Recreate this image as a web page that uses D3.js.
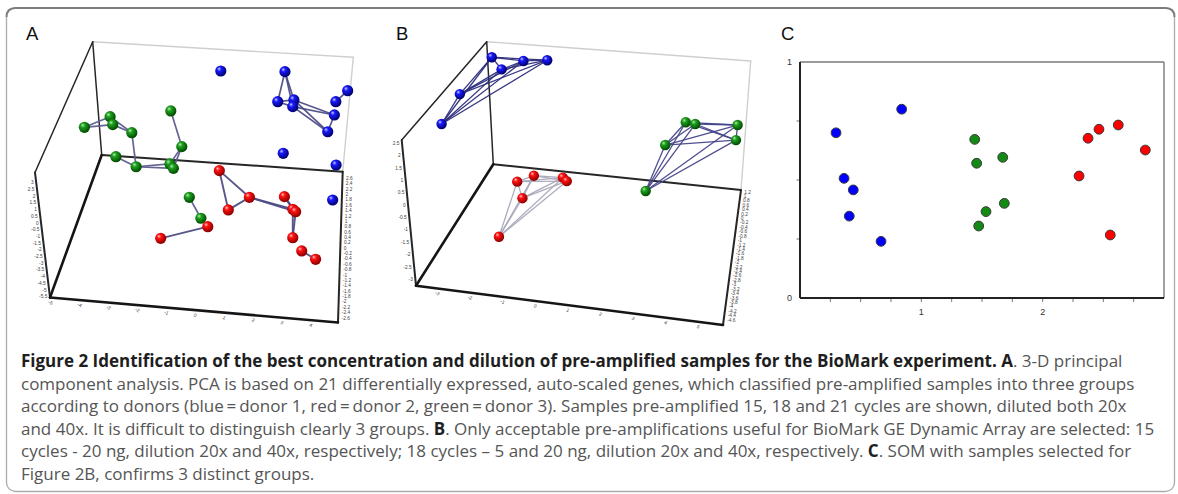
<!DOCTYPE html>
<html><head><meta charset="utf-8">
<script src="https://cdn.jsdelivr.net/npm/d3@7/dist/d3.min.js"></script>
<style>
html,body{margin:0;padding:0;background:#fff;}
svg{display:block;}
</style></head><body>
<svg id="fig" width="1178" height="494"></svg>
<script>
// ---------- data ----------
// Panel A: 3-D PCA, apparent positions [PC1 along the front axis, height on the left axis]
const A_blue  = [[0.91,11.33],[3.13,11.28],[2.88,9.04],[3.44,9.17],[3.40,8.67],[4.84,8.05],[4.61,6.80],[4.89,9.04],[5.30,9.86],[3.07,5.19],[4.90,4.32],[4.78,1.71]];
const A_green = [[-3.81,7.13],[-2.92,7.92],[-2.83,7.33],[-2.17,6.73],[-2.72,4.94],[-2.02,4.19],[-0.82,8.35],[-0.44,5.69],[-0.85,4.40],[-0.73,4.07],[-0.18,1.91],[0.22,0.35]];
const A_red   = [[0.86,3.90],[1.90,1.91],[1.17,0.97],[3.11,1.96],[3.40,1.02],[3.50,0.84],[3.40,-1.10],[3.71,-2.09],[4.19,-2.71],[0.46,-0.28],[-1.17,-1.15]];
// links between replicate samples (index pairs)
const A_blueLinks  = [[1,2],[1,3],[1,4],[2,3],[2,4],[3,5],[3,6],[4,6],[4,5],[5,6],[7,8]];
const A_greenLinks = [[0,1],[0,2],[1,2],[1,3],[2,3],[3,5],[4,5],[5,8],[5,9],[6,7],[7,8],[7,9],[10,11]];
const A_redLinks   = [[0,1],[0,2],[1,2],[1,4],[1,5],[3,4],[3,5],[4,6],[5,6],[7,8],[9,10]];

// Panel B: selected pre-amplifications
const B_blue  = [[-1.31,5.98],[-0.34,5.83],[0.39,5.86],[-1.01,5.49],[-2.29,4.49],[-2.85,3.28]];
const B_green = [[4.64,3.35],[4.93,3.28],[6.23,3.24],[6.18,2.63],[4.01,2.43],[3.41,0.57]];
const B_red   = [[-0.53,0.95],[-0.02,1.19],[0.87,1.11],[0.99,0.97],[-0.37,0.28],[-1.09,-1.28]];

// Panel C: SOM map coordinates
const C_blue  = [[0.297,0.700],[0.838,0.800],[0.363,0.507],[0.439,0.458],[0.406,0.347],[0.668,0.240]];
const C_green = [[1.440,0.672],[1.456,0.571],[1.671,0.596],[1.684,0.401],[1.533,0.366],[1.473,0.305]];
const C_red   = [[2.374,0.677],[2.464,0.715],[2.623,0.733],[2.846,0.627],[2.300,0.517],[2.557,0.267]];

// tick labels
const A_leftTicks  = [3,2.5,2,1.5,1,0.5,0,-0.5,-1,-1.5,-2,-2.5,-3,-3.5,-4,-4.5,-5,-5.5];
const A_frontTicks = [-5,-4,-3,-2,-1,0,1,2,3,4];
const A_rightTicks = [2.6,2.4,2.2,2,1.8,1.6,1.4,1.2,1,0.8,0.6,0.4,0.2,0,-0.2,-0.4,-0.6,-0.8,-1,-1.2,-1.4,-1.6,-1.8,-2,-2.2,-2.4,-2.6];
const B_leftTicks  = [2.5,2,1.5,1,0.5,0,-0.5,-1,-1.5,-2,-2.5,-3];
const B_frontTicks = [-3,-2,-1,0,1,2,3,4,5];
const B_rightTicks = [1.2,1,0.8,0.6,0.4,0.2,0,-0.2,-0.4,-0.6,-0.8,-1,-1.2,-1.4,-1.6,-1.8,-2,-2.2,-2.4,-2.6,-2.8,-3,-3.2,-3.4,-3.6,-3.8,-4,-4.2,-4.4,-4.6];
const C_xLabels = [1,2];
const C_yLabels = [0,1];
const C_xMinor = [0.25,0.5,0.75,1,1.25,1.5,1.75,2,2.25,2.5,2.75];
const C_yMinor = [0.25,0.5,0.75];

const captionLines = [
  [["Figure 2 Identification of the best concentration and dilution of pre-amplified samples for the BioMark experiment. A", true], [". 3-D principal", false]],
  [["component analysis. PCA is based on 21 differentially expressed, auto-scaled genes, which classified pre-amplified samples into three groups", false]],
  [["according to donors (blue\u2009=\u2009donor 1, red\u2009=\u2009donor 2, green\u2009=\u2009donor 3). Samples pre-amplified 15, 18 and 21 cycles are shown, diluted both 20x", false]],
  [["and 40x. It is difficult to distinguish clearly 3 groups. ", false], ["B", true], [". Only acceptable pre-amplifications useful for BioMark GE Dynamic Array are selected: 15", false]],
  [["cycles - 20 ng, dilution 20x and 40x, respectively; 18 cycles \u2013 5 and 20 ng, dilution 20x and 40x, respectively. ", false], ["C", true], [". SOM with samples selected for", false]],
  [["Figure 2B, confirms 3 distinct groups.", false]]
];

// ---------- drawing ----------
const svg = d3.select("#fig");
const defs = svg.append("defs");
const flat = {blue: "#0000ff", red: "#ff0000", green: "#138a13"};
[["blue", "#c4c8ff", "#1818ff", "#00006a"],
 ["red", "#ffc0c0", "#ff1010", "#8a0000"],
 ["green", "#b0ecb0", "#1ea01e", "#004a00"]].forEach(([k, hi, mid, lo]) => {
  const g = defs.append("radialGradient").attr("id", "ball-" + k)
    .attr("cx", "40%").attr("cy", "38%").attr("r", "62%").attr("fx", "34%").attr("fy", "30%");
  g.append("stop").attr("offset", "0%").attr("stop-color", hi);
  g.append("stop").attr("offset", "32%").attr("stop-color", mid);
  g.append("stop").attr("offset", "100%").attr("stop-color", lo);
});

// outer frame
svg.append("rect").attr("x", 6.5).attr("y", 8).attr("width", 1168).attr("height", 483.5)
  .attr("rx", 9).attr("fill", "none").attr("stroke", "#ababab").attr("stroke-width", 1.3);
svg.append("path").attr("d", "M6.5,17 Q6.5,8 15.5,8 L1165.5,8 Q1174.5,8 1174.5,17")
  .attr("fill", "none").attr("stroke", "#7d7d7d").attr("stroke-width", 2);

// panel letters
[["A", 26], ["B", 396], ["C", 781]].forEach(([t, x]) => {
  svg.append("text").attr("x", x).attr("y", 40).text(t)
    .attr("font-family", "Liberation Sans, Arial, sans-serif").attr("font-size", 18.5).attr("fill", "#111");
});

const lerp = (a, b, t) => [a[0] + (b[0] - a[0]) * t, a[1] + (b[1] - a[1]) * t];

function panel3D(o) {
  const g = svg.append("g");
  const [P1, P2, P3, P4, P5, P6, P7] = o.box;
  const seg = (a, b, stroke, w) => g.append("line")
    .attr("x1", a[0]).attr("y1", a[1]).attr("x2", b[0]).attr("y2", b[1])
    .attr("stroke", stroke).attr("stroke-width", w).attr("stroke-linecap", "round");
  // box edges: faint back wall, dark axes
  seg(P1, P2, "#cfcfcf", 1.4);
  seg(P2, P4, "#cfcfcf", 1.4);
  seg(P1, P5, "#262626", 1.5);
  seg(P1, P3, "#262626", 1.5);
  seg(P3, P4, "#262626", 2);
  seg(P5, P6, "#262626", 2);
  seg(P4, P7, "#262626", 2);
  seg(P3, P6, "#151515", 2.6);
  seg(P6, P7, "#151515", 2.6);

  const tick = {"font-family": "Liberation Sans, Arial, sans-serif", "font-size": 4.8, "fill": "#444"};
  const applyStyle = s => { Object.entries(tick).forEach(([k, v]) => s.attr(k, v)); return s; };
  // left (vertical) axis labels
  applyStyle(g.append("g").selectAll("text").data(o.leftTicks).join("text")
    .attr("x", d => { const y = o.y(d); return lerp(P5, P6, (y - P5[1]) / (P6[1] - P5[1]))[0] - 2.5; })
    .attr("y", d => o.y(d) + 1.6).attr("text-anchor", "end").text(d => d));
  // front axis labels (rotated)
  applyStyle(g.append("g").selectAll("text").data(o.frontTicks).join("text")
    .attr("transform", d => {
      const x = o.x(d); const p = lerp(P6, P7, (x - P6[0]) / (P7[0] - P6[0]));
      return `translate(${x},${p[1] + 6.5}) rotate(28)`;
    }).attr("text-anchor", "middle").text(d => d));
  // right depth axis labels
  applyStyle(g.append("g").selectAll("text").data(o.rightTicks).join("text")
    .attr("x", d => { const y = o.z(d); return lerp(P4, P7, (y - P4[1]) / (P7[1] - P4[1]))[0] + 3.5; })
    .attr("y", d => o.z(d) + 1.6).text(d => d));

  // replicate links then spheres
  o.groups.forEach(gr => {
    g.append("g").selectAll("line").data(gr.links || []).join("line")
      .attr("x1", d => o.x(gr.pts[d[0]][0])).attr("y1", d => o.y(gr.pts[d[0]][1]))
      .attr("x2", d => o.x(gr.pts[d[1]][0])).attr("y2", d => o.y(gr.pts[d[1]][1]))
      .attr("stroke", gr.linkColor).attr("stroke-width", gr.linkWidth).attr("stroke-opacity", 0.95);
  });
  o.groups.forEach(gr => {
    g.append("g").selectAll("circle").data(gr.pts).join("circle")
      .attr("cx", d => o.x(d[0])).attr("cy", d => o.y(d[1])).attr("r", o.r)
      .attr("fill", `url(#ball-${gr.color})`);
  });
}

function allPairs(n) {
  const out = [];
  for (let i = 0; i < n; i++) for (let j = i + 1; j < n; j++) out.push([i, j]);
  return out;
}

// Panel A
panel3D({
  box: [[92.7, 41.7], [353.3, 57.3], [101.7, 155], [342.7, 171.7], [35, 172.5], [50, 297.5], [338, 322.5]],
  x: d3.scaleLinear().domain([-5, 5]).range([50, 339]),
  y: d3.scaleLinear().domain([-5.5, 3]).range([296.7, 182.7]),
  z: d3.scaleLinear().domain([2.6, -2.6]).range([178.3, 318]),
  leftTicks: A_leftTicks, frontTicks: A_frontTicks, rightTicks: A_rightTicks,
  r: 5.6,
  groups: [
    {pts: A_green, links: A_greenLinks, color: "green", linkColor: "#5c5c8e", linkWidth: 1.7},
    {pts: A_red, links: A_redLinks, color: "red", linkColor: "#4e4e86", linkWidth: 1.9},
    {pts: A_blue, links: A_blueLinks, color: "blue", linkColor: "#4e4e86", linkWidth: 1.7}
  ]
});

// Panel B
panel3D({
  box: [[486.7, 41.7], [750.7, 61], [493.3, 164.3], [741, 190], [401.7, 140], [416, 285.7], [723, 325]],
  x: d3.scaleLinear().domain([-3, 5]).range([436.7, 697.5]),
  y: d3.scaleLinear().domain([-3, 2.5]).range([279.3, 143.3]),
  z: d3.scaleLinear().domain([1.2, -4.6]).range([192, 320]),
  leftTicks: B_leftTicks, frontTicks: B_frontTicks, rightTicks: B_rightTicks,
  r: 5.2,
  groups: [
    {pts: B_red, links: allPairs(B_red.length), color: "red", linkColor: "#a9a9bb", linkWidth: 1.3},
    {pts: B_green, links: allPairs(B_green.length), color: "green", linkColor: "#45458a", linkWidth: 1.3},
    {pts: B_blue, links: allPairs(B_blue.length), color: "blue", linkColor: "#2c2c7c", linkWidth: 1.3}
  ]
});

// Panel C: SOM scatter
(function () {
  const g = svg.append("g");
  const x = d3.scaleLinear().domain([0, 3]).range([800, 1164]);
  const y = d3.scaleLinear().domain([0, 1]).range([298, 62]);
  const font = "Liberation Sans, Arial, sans-serif";
  // frame: light top/right, heavy left/bottom
  g.append("line").attr("x1", x(0)).attr("x2", x(3)).attr("y1", y(1)).attr("y2", y(1)).attr("stroke", "#7a7a7a").attr("stroke-width", 1.4);
  g.append("line").attr("x1", x(3)).attr("x2", x(3)).attr("y1", y(1)).attr("y2", y(0)).attr("stroke", "#7a7a7a").attr("stroke-width", 1.4);
  g.selectAll(".xt").data(C_xMinor).join("line").attr("x1", d => x(d)).attr("x2", d => x(d))
    .attr("y1", y(0)).attr("y2", y(0) + 4).attr("stroke", "#777").attr("stroke-width", 1);
  g.selectAll(".yt").data(C_yMinor).join("line").attr("y1", d => y(d)).attr("y2", d => y(d))
    .attr("x1", x(0) - 3.5).attr("x2", x(0)).attr("stroke", "#777").attr("stroke-width", 1);
  g.append("line").attr("x1", x(0)).attr("x2", x(0)).attr("y1", y(1)).attr("y2", y(0)).attr("stroke", "#222").attr("stroke-width", 2);
  g.append("line").attr("x1", x(0)).attr("x2", x(3)).attr("y1", y(0)).attr("y2", y(0)).attr("stroke", "#222").attr("stroke-width", 2);
  g.selectAll(".xl").data(C_xLabels).join("text").attr("x", d => x(d)).attr("y", y(0) + 17)
    .attr("text-anchor", "middle").attr("font-family", font).attr("font-size", 9).attr("fill", "#333").text(d => d);
  g.selectAll(".yl").data(C_yLabels).join("text").attr("x", x(0) - 8).attr("y", d => y(d) + 3)
    .attr("text-anchor", "end").attr("font-family", font).attr("font-size", 9).attr("fill", "#333").text(d => d);
  [[C_blue, "blue"], [C_green, "green"], [C_red, "red"]].forEach(([pts, c]) => {
    g.append("g").selectAll("circle").data(pts).join("circle")
      .attr("cx", d => x(d[0])).attr("cy", d => y(d[1])).attr("r", 4.9)
      .attr("fill", flat[c]).attr("stroke", "#3a3a3a").attr("stroke-width", 1);
  });
})();

// caption
const cap = svg.append("g").attr("font-family", "Open Sans, Noto Sans, sans-serif").attr("font-size", 17);
captionLines.forEach((parts, i) => {
  const t = cap.append("text").attr("x", 21).attr("y", 367 + i * 22.6);
  parts.forEach(([s, bold]) => {
    t.append("tspan").text(s)
      .attr("font-weight", bold ? 700 : 400)
      .attr("fill", bold ? "#1e1e1e" : "#555");
  });
});
</script>
</body></html>
